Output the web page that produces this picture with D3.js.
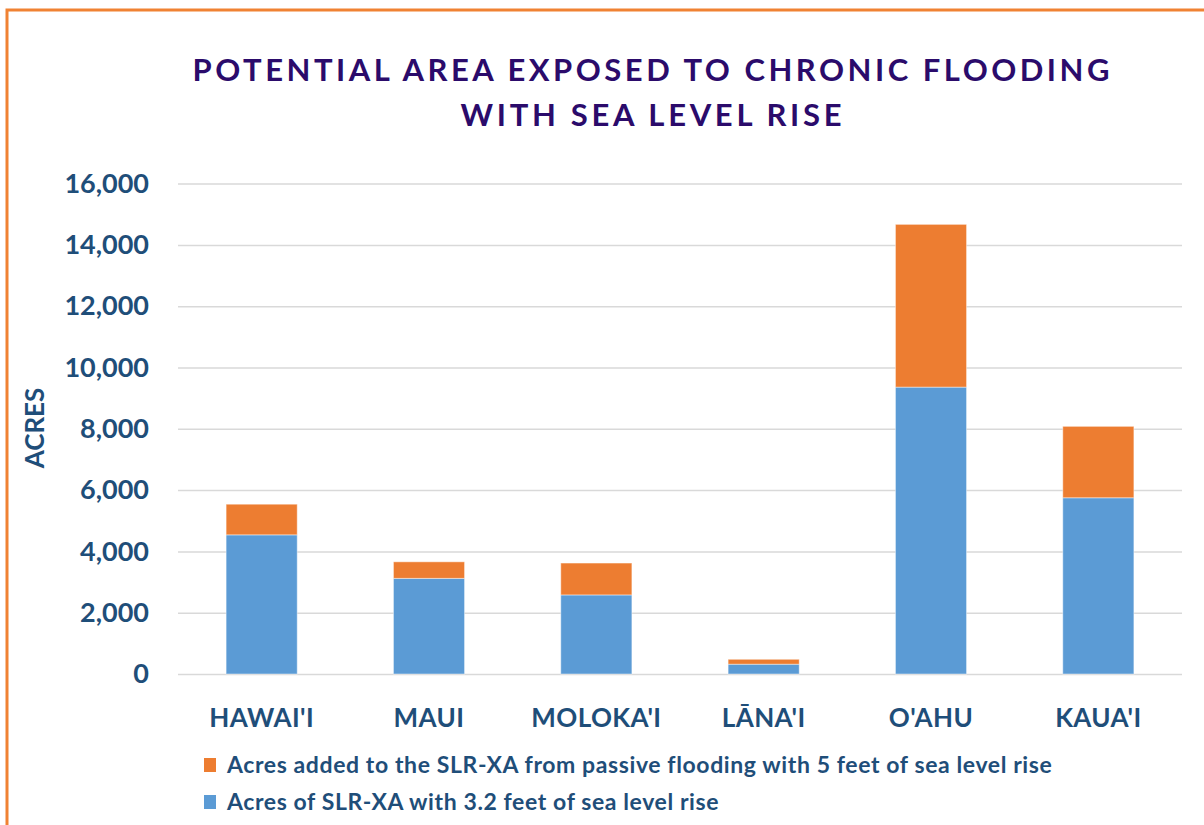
<!DOCTYPE html>
<html>
<head>
<meta charset="utf-8">
<script src="https://cdn.jsdelivr.net/npm/d3@7"></script>
<style>
  body { margin: 0; background: #fff; }
  svg { display: block; font-family: Lato, "Open Sans", sans-serif; }
</style>
</head>
<body>
<svg id="chart" width="1204" height="825"></svg>
<script>
// chart data
var islands = ["HAWAI'I", "MAUI", "MOLOKA'I", "LĀNA'I", "O'AHU", "KAUA'I"];
var base32 = [4540, 3120, 2580, 320, 9360, 5750];    // acres with 3.2 ft
var added5 = [1000, 540, 1040, 160, 5310, 2330];     // added with 5 ft
var yTicks = [0, 2000, 4000, 6000, 8000, 10000, 12000, 14000, 16000];
var seriesNames = [
    "Acres added to the SLR-XA from passive flooding with 5 feet of sea level rise",
    "Acres of SLR-XA with 3.2 feet of sea level rise"
];
var titleLines = ["POTENTIAL AREA EXPOSED TO CHRONIC FLOODING", "WITH SEA LEVEL RISE"];

var BLUE = "#5b9bd5", ORANGE = "#ed7d31", TEXT = "#1f4e79", TITLE = "#2b0b6b";

var svg = d3.select("#chart");

// orange frame (only top and left edges visible)
svg.append("rect")
    .attr("x", 7).attr("y", 10)
    .attr("width", 1300).attr("height", 900)
    .attr("fill", "none").attr("stroke", "#f08233").attr("stroke-width", 3);

// title
var titleW = [917, 381];
svg.selectAll("text.title").data(titleLines).enter().append("text")
    .attr("class", "title")
    .attr("x", 651)
    .attr("y", function(d, i) { return 81 + i * 45; })
    .attr("text-anchor", "middle")
    .attr("font-size", 31).attr("font-weight", "bold")
    .attr("fill", TITLE)
    .attr("textLength", function(d, i) { return titleW[i]; })
    .attr("lengthAdjust", "spacing")
    .text(function(d) { return d; });

/* ==========================================================================
 * Scales and axes
 * ========================================================================== */
var x = d3.scaleBand().domain(islands).range([178, 1182])
    .paddingInner(0.575).paddingOuter(0.2875);
var y = d3.scaleLinear().domain([0, 16000]).range([674, 183.6]);

// gridlines
svg.append("g")
    .attr("transform", "translate(178,0)")
    .call(d3.axisLeft(y).tickValues(yTicks).tickSize(-1004).tickFormat(""))
    .call(function(g) {
        g.select(".domain").remove();
        g.selectAll("line").attr("stroke", "#d9d9d9").attr("stroke-width", 1.5);
    });

// y tick labels
svg.append("g")
    .attr("transform", "translate(149,0)")
    .call(d3.axisLeft(y).tickValues(yTicks).tickSize(0).tickPadding(0).tickFormat(d3.format(",")))
    .call(function(g) {
        g.select(".domain").remove();
        g.selectAll("text")
            .attr("font-family", "Lato, sans-serif")
            .attr("font-size", 27).attr("font-weight", "bold")
            .attr("fill", TEXT);
    });

// y axis title
svg.append("text")
    .attr("transform", "translate(44,428) rotate(-90)")
    .attr("text-anchor", "middle")
    .attr("font-size", 26).attr("font-weight", "bold")
    .attr("fill", TEXT)
    .text("ACRES");

/* ==========================================================================
 * Stacked bars
 * ========================================================================== */
var rows = islands.map(function(d, i) {
    return { island: d, base: base32[i], added: added5[i] };
});
var stack = d3.stack().keys(["base", "added"])(rows);
var colors = { base: BLUE, added: ORANGE };

svg.append("g").selectAll("g").data(stack).enter().append("g")
    .attr("fill", function(s) { return colors[s.key]; })
    .selectAll("rect").data(function(s) { return s; }).enter().append("rect")
    .attr("x", function(d) { return x(d.data.island); })
    .attr("width", x.bandwidth())
    .attr("y", function(d) { return y(d[1]); })
    .attr("height", function(d) { return y(d[0]) - y(d[1]); })
    .attr("stroke", "#ffffff").attr("stroke-opacity", 0.45).attr("stroke-width", 1);

// category labels
svg.append("g")
    .attr("transform", "translate(0,727)")
    .call(d3.axisBottom(x).tickSize(0).tickPadding(0))
    .call(function(g) {
        g.select(".domain").remove();
        g.selectAll("text")
            .attr("dy", 0)
            .attr("font-family", "Lato, sans-serif")
            .attr("font-size", 26).attr("font-weight", "bold")
            .attr("letter-spacing", 0.4)
            .attr("fill", TEXT);
    });

/* ==========================================================================
 * Legend
 * ========================================================================== */
var legend = svg.append("g");
var legendColors = [ORANGE, BLUE];
var item = legend.selectAll("g").data(seriesNames).enter().append("g")
    .attr("transform", function(d, i) { return "translate(204," + (773 + i * 37) + ")"; });
item.append("rect")
    .attr("x", 0).attr("y", -15)
    .attr("width", 12).attr("height", 14)
    .attr("fill", function(d, i) { return legendColors[i]; });
item.append("text")
    .attr("x", 23).attr("y", 0)
    .attr("font-size", 23).attr("font-weight", "bold")
    .attr("letter-spacing", 0.6)
    .attr("fill", TEXT)
    .text(function(d) { return d; });
</script>
</body>
</html>
